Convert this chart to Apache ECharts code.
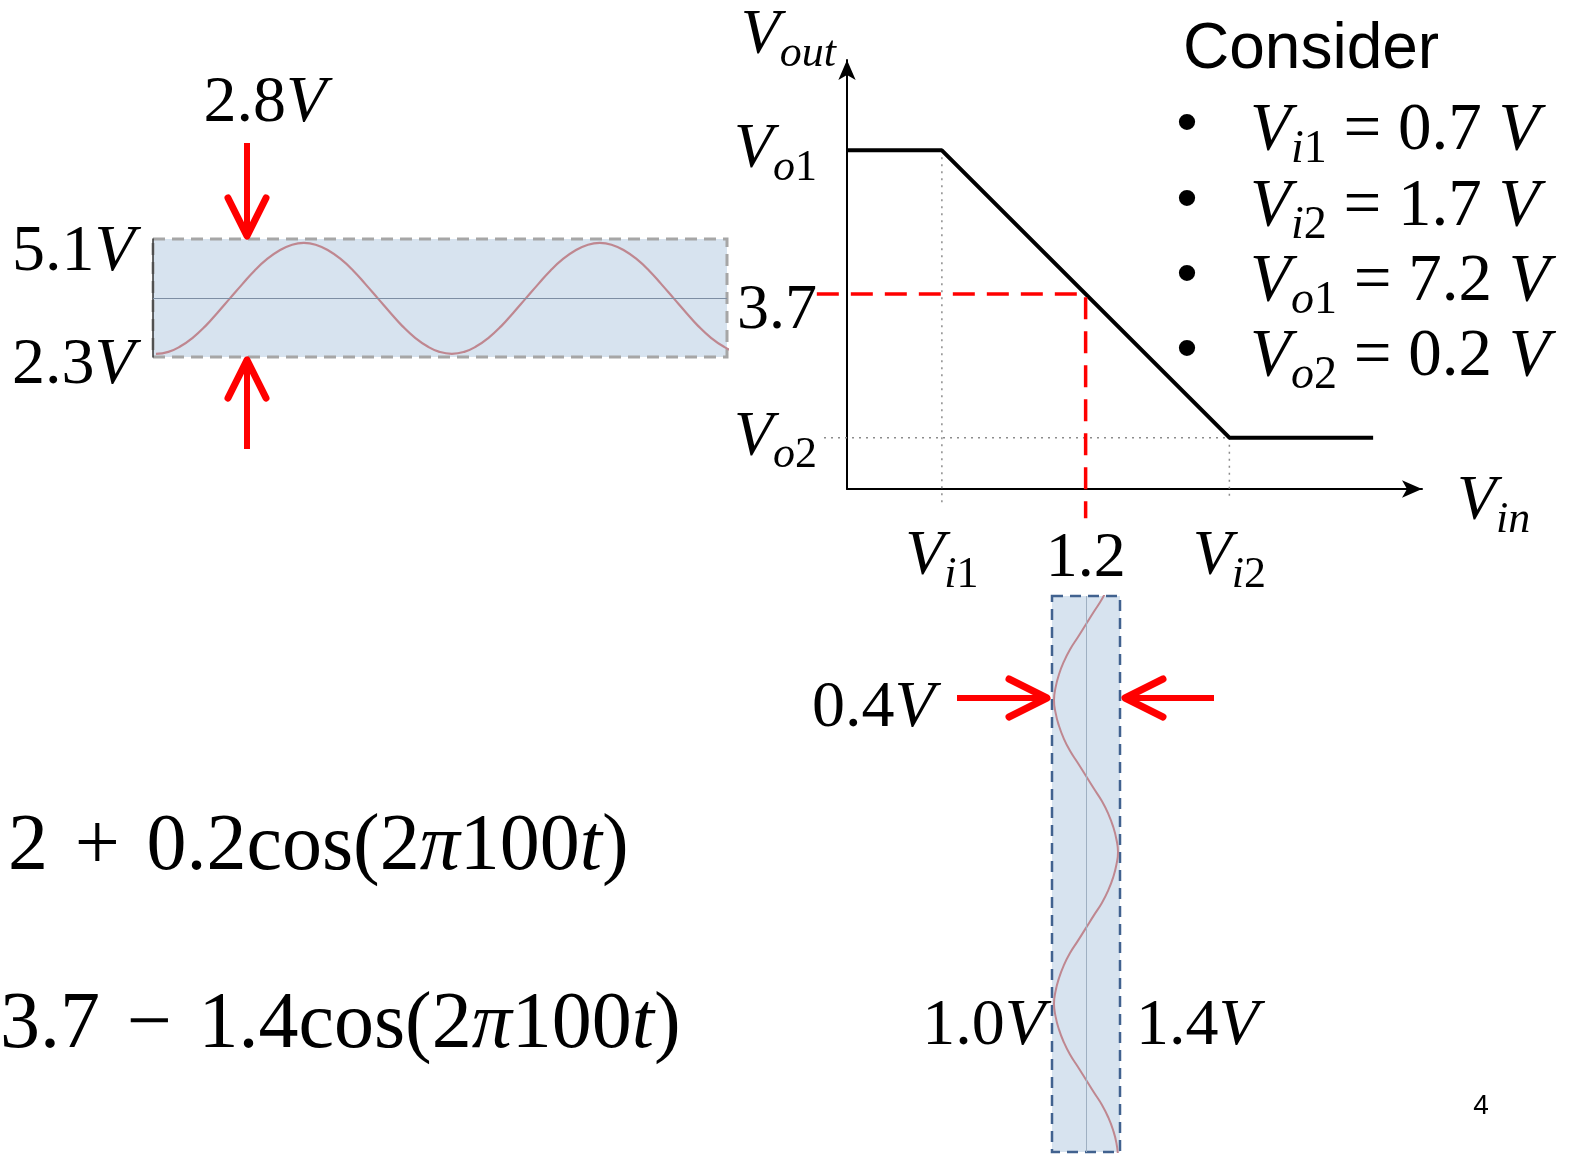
<!DOCTYPE html>
<html><head><meta charset="utf-8">
<script src="https://cdn.jsdelivr.net/npm/echarts@6/dist/echarts.min.js"></script>
<style>html,body{margin:0;padding:0;background:#fff;}#c{width:1576px;height:1154px;}</style>
</head><body><div id="c"></div>
<script>
// ---- transfer characteristic (V) ----
const vtcVin  = [0.37, 0.7, 1.7, 2.2];
const vtcVout = [7.2, 7.2, 0.2, 0.2];
const vi1 = 0.7, vi2 = 1.7, vo1 = 7.2, vo2 = 0.2;
const vinDC = 1.2, voutDC = 3.7;
const xTickValues = [vi1, vinDC, vi2];
const xTickLabels = ['{v|V}{si|i}{sn|1}', '{n2|1.2}', '{v|V}{si|i}{sn|2}'];
const yTickValues = [vo2, voutDC, vo1];
const yTickLabels = ['{v|V}{si|o}{sn|2}', '{n3|3.7}', '{v|V}{si|o}{sn|1}'];
// ---- output waveform samples (time ms, volts) ----
const outTime = [0,0.42,0.83,1.25,1.67,2.08,2.5,2.92,3.33,3.75,4.17,4.58,5,5.42,5.83,6.25,6.67,7.08,7.5,7.92,8.33,8.75,9.17,9.58,10,10.42,10.83,11.25,11.67,12.08,12.5,12.92,13.33,13.75,14.17,14.58,15,15.42,15.83,16.25,16.67,17.08,17.5,17.92,18.33,18.75,19.17,19.58,20];
const outVolt = [2.3,2.35,2.49,2.71,3.0,3.34,3.7,4.06,4.4,4.69,4.91,5.05,5.1,5.05,4.91,4.69,4.4,4.06,3.7,3.34,3.0,2.71,2.49,2.35,2.3,2.35,2.49,2.71,3.0,3.34,3.7,4.06,4.4,4.69,4.91,5.05,5.1,5.05,4.91,4.69,4.4,4.06,3.7,3.34,3.0,2.71,2.49,2.35,2.3];
// ---- input waveform samples (time ms, volts) ----
const inTime = [-10,-9.58,-9.17,-8.75,-8.33,-7.92,-7.5,-7.08,-6.67,-6.25,-5.83,-5.42,-5,-4.58,-4.17,-3.75,-3.33,-2.92,-2.5,-2.08,-1.67,-1.25,-0.83,-0.42,0,0.42,0.83,1.25,1.67,2.08,2.5,2.92,3.33,3.75,4.17,4.58,5,5.42,5.83,6.25,6.67,7.08,7.5,7.92,8.33,8.75,9.17,9.58,10];
const inVolt = [1.4,1.39,1.37,1.34,1.3,1.25,1.2,1.15,1.1,1.06,1.03,1.01,1.0,1.01,1.03,1.06,1.1,1.15,1.2,1.25,1.3,1.34,1.37,1.39,1.4,1.39,1.37,1.34,1.3,1.25,1.2,1.15,1.1,1.06,1.03,1.01,1.0,1.01,1.03,1.06,1.1,1.15,1.2,1.25,1.3,1.34,1.37,1.39,1.4];
// ---- guide lines on the transfer plot ----
const guideVi1 = [[vi1, vo1], [vi1, -1.4]];
const guideVi2 = [[vi2, vo2], [vi2, -1.3]];
const guideVo2 = [[0.29, vo2], [vi2, vo2]];
const operatingPoint = [[0.265, voutDC], [vinDC, voutDC], [vinDC, -1.76]];

const F = 'Liberation Serif';
function richL(size){ // echarts labels
  const sub = Math.round(size*0.69), pad = Math.round(size*0.56);
  return {
    v:{fontFamily:F,fontStyle:'italic',fontSize:size,color:'#000'},
    n:{fontFamily:F,fontSize:size,color:'#000'},
    n2:{fontFamily:F,fontSize:size,color:'#000',padding:[10,0,0,0]},
    n3:{fontFamily:F,fontSize:size,color:'#000',padding:[34,0,0,0]},
    si:{fontFamily:F,fontStyle:'italic',fontSize:sub,color:'#000',padding:[pad,0,0,0]},
    sn:{fontFamily:F,fontSize:sub,color:'#000',padding:[pad,0,0,0]}
  };
}
function richG(size){ // graphic text
  const sub = Math.round(size*0.69), pad = Math.round(size*0.56);
  return {
    v:{fontFamily:F,fontStyle:'italic',fontSize:size,fill:'#000'},
    n:{fontFamily:F,fontSize:size,fill:'#000'},
    si:{fontFamily:F,fontStyle:'italic',fontSize:sub,fill:'#000',padding:[pad,0,0,0]},
    sn:{fontFamily:F,fontSize:sub,fill:'#000',padding:[pad,0,0,0]}
  };
}
function txt(x,y,text,size,align){
  return {type:'text',x:x,y:y,z:100,style:{text:text,rich:richG(size),align:align||'left',verticalAlign:'middle',fill:'#000',fontFamily:F,fontSize:size}};
}
function arrow(x1,y1,x2,y2){
  const dx=x2-x1, dy=y2-y1, L=Math.hypot(dx,dy), ux=dx/L, uy=dy/L;
  const hl=38, hw=19, tx=x2-ux*3, ty=y2-uy*3;
  const bx=tx-ux*hl, by=ty-uy*hl;
  return [
    {type:'line',z:100,shape:{x1:x1,y1:y1,x2:tx,y2:ty},style:{stroke:'#ff0000',lineWidth:6}},
    {type:'polyline',z:100,shape:{points:[[bx-uy*hw,by+ux*hw],[tx,ty],[bx+uy*hw,by-ux*hw]]},style:{stroke:'#ff0000',lineWidth:7,lineCap:'round',lineJoin:'round',fill:null}}
  ];
}
function pick(vals, labels, v){
  for (let i=0;i<vals.length;i++) if (Math.abs(vals[i]-v)<1e-6) return labels[i];
  return '';
}
const hidden = {axisLine:{show:false},axisTick:{show:false},axisLabel:{show:false},splitLine:{show:false}};
const SP = '\u2004';

const graphics = [].concat(
  arrow(247,143,247,239), arrow(247,449,247,357),
  arrow(957,698,1050,698), arrow(1214,698,1122,698),
  [
    txt(265,104,'{n|2.8}{v|V}',66,'center'),
    txt(12,253,'{n|5.1}{v|V}',66),
    txt(12,366,'{n|2.3}{v|V}',66),
    txt(812,709,'{n|0.4}{v|V}',66),
    txt(1045,1027,'{n|1.0}{v|V}',66,'right'),
    txt(1136,1027,'{n|1.4}{v|V}',66),
    txt(836,36,'{v|V}{si|out}',64,'right'),
    txt(1457,502,'{v|V}{si|in}',64),
    {type:'text',x:1183,y:50,z:100,style:{text:'Consider',fontFamily:'Liberation Sans',fontSize:64,fill:'#000',verticalAlign:'middle'}},
    {type:'text',x:1481,y:1106,z:100,style:{text:'4',fontFamily:'Liberation Sans',fontSize:28,fill:'#000',align:'center',verticalAlign:'middle'}},
    txt(8,848,'{n|2'+SP+'+'+SP+'0.2cos(2}{v|π}{n|100}{v|t}{n|)}',80),
    txt(0,1026,'{n|3.7'+SP+'−'+SP+'1.4cos(2}{v|π}{n|100}{v|t}{n|)}',80)
  ]
);
const bulletLines = [
  '{v|V}{si|i}{sn|1}{n| = 0.7 }{v|V}',
  '{v|V}{si|i}{sn|2}{n| = 1.7 }{v|V}',
  '{v|V}{si|o}{sn|1}{n| = 7.2 }{v|V}',
  '{v|V}{si|o}{sn|2}{n| = 0.2 }{v|V}'
];
const bulletY = [131, 207, 282, 357];
bulletLines.forEach(function(s,i){
  graphics.push({type:'text',x:1187,y:bulletY[i]-6,z:100,style:{text:'•',fontFamily:'Liberation Sans',fontSize:60,fill:'#000',align:'center',verticalAlign:'middle'}});
  graphics.push(txt(1250,bulletY[i],s,67));
});

const chart = echarts.init(document.getElementById('c'));
chart.setOption({
  backgroundColor:'#ffffff',
  animation:false,
  grid:[
    {left:847,top:60,width:575,height:429},
    {left:153,top:239,width:574,height:118,show:true,backgroundColor:'#d7e3ef',borderColor:'#a6a6a6',borderWidth:3,borderType:[12,7]},
    {left:1052,top:596,width:68,height:556,show:true,backgroundColor:'#d7e3ef',borderColor:'#41628f',borderWidth:2.5,borderType:[11,7]},
    // overlay grid sharing the transfer plot's scale, extended left/down for guide lines
    {left:815.375,top:60,width:606.625,height:459.8}
  ],
  xAxis:[
    {type:'value',gridIndex:0,min:0.37,max:2.37,
     axisLine:{show:true,onZero:false,symbol:['none','arrow'],symbolSize:[13,20],lineStyle:{color:'#000',width:2}},
     axisTick:{show:false},splitLine:{show:false},
     axisLabel:{customValues:xTickValues,margin:28,formatter:function(v){return pick(xTickValues,xTickLabels,v);},rich:richL(64)}},
    Object.assign({type:'value',gridIndex:1,min:-0.1,max:19.3},hidden),
    Object.assign({type:'value',gridIndex:2,min:0.9875,max:1.4125},hidden),
    Object.assign({type:'value',gridIndex:3,min:0.26,max:2.37},hidden)
  ],
  yAxis:[
    {type:'value',gridIndex:0,min:-1.05,max:9.4,
     axisLine:{show:true,onZero:false,symbol:['none','arrow'],symbolSize:[13,20],lineStyle:{color:'#000',width:2}},
     axisTick:{show:false},splitLine:{show:false},
     axisLabel:{customValues:yTickValues,margin:30,formatter:function(v){return pick(yTickValues,yTickLabels,v);},rich:richL(64)}},
    {type:'value',gridIndex:1,min:2.22,max:5.2,axisLine:{show:true,onZero:false,lineStyle:{color:'#333',width:1.5}},axisTick:{show:false},axisLabel:{show:false},splitLine:{show:false}},
    Object.assign({type:'value',gridIndex:2,min:-8.43,max:9.88,inverse:true},hidden),
    Object.assign({type:'value',gridIndex:3,min:-1.8,max:9.4},hidden)
  ],
  graphic:graphics,
  series:[
    {type:'line',xAxisIndex:3,yAxisIndex:3,symbol:'none',data:guideVi1,lineStyle:{color:'#8c8c8c',width:1.5,type:[2,5]},z:1},
    {type:'line',xAxisIndex:3,yAxisIndex:3,symbol:'none',data:guideVi2,lineStyle:{color:'#8c8c8c',width:1.5,type:[2,5]},z:1},
    {type:'line',xAxisIndex:3,yAxisIndex:3,symbol:'none',data:guideVo2,lineStyle:{color:'#8c8c8c',width:1.5,type:[2,5]},z:1},
    {type:'line',xAxisIndex:0,yAxisIndex:0,symbol:'none',
     data:vtcVin.map(function(x,i){return [x,vtcVout[i]];}),lineStyle:{color:'#000',width:4},z:3},
    {type:'line',xAxisIndex:3,yAxisIndex:3,symbol:'none',data:operatingPoint,lineStyle:{color:'#ff0000',width:3.5,type:[22,12]},z:4},
    {type:'line',xAxisIndex:1,yAxisIndex:1,symbol:'none',smooth:true,
     data:outTime.map(function(t,i){return [t,outVolt[i]];}),lineStyle:{color:'#bf8790',width:2.2},
     markLine:{silent:true,symbol:'none',label:{show:false},lineStyle:{color:'#7d8ea3',width:1,type:'solid'},data:[{yAxis:voutDC}]}},
    {type:'line',xAxisIndex:2,yAxisIndex:2,symbol:'none',smooth:true,
     data:inTime.map(function(t,i){return [inVolt[i],t];}),lineStyle:{color:'#bf8790',width:2},
     markLine:{silent:true,symbol:'none',label:{show:false},lineStyle:{color:'#9fb0c2',width:1,type:'solid'},data:[{xAxis:vinDC}]}}
  ]
});
</script></body></html>
